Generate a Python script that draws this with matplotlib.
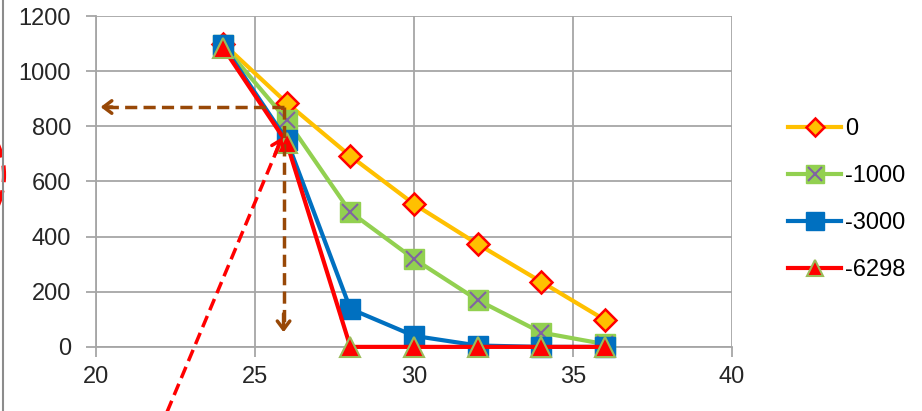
import numpy as np
import matplotlib.pyplot as plt
from matplotlib.lines import Line2D
from matplotlib.patches import Ellipse
from matplotlib.legend_handler import HandlerTuple

plt.rcParams['font.family'] = ['Liberation Sans', 'DejaVu Sans']

# data
x = [24, 26, 28, 30, 32, 34, 36]
s0 = [1100, 885, 692, 518, 373, 236, 98]
s1000 = [1095, 823, 489, 319, 170, 52, 10]
s3000 = [1095, 750, 138, 40, 5, 0, 0]
s6298 = [1085, 740, 0, 0, 0, 0, 0]
labels = ['0', '-1000', '-3000', '-6298']

fig = plt.figure(figsize=(9.22, 4.11), dpi=100)
ax = fig.add_axes([0.104, 0.156, 0.690, 0.805])

grid_c = '#A6A6A6'
ax.set_xlim(20, 40)
ax.set_ylim(0, 1200)
ax.set_xticks(np.arange(20, 41, 5))
ax.set_yticks(np.arange(0, 1201, 200))
ax.grid(True, color=grid_c, linewidth=1.3)
ax.set_axisbelow(True)
for s in ['top', 'right']:
    ax.spines[s].set_visible(False)
for s in ['left', 'bottom']:
    ax.spines[s].set_color(grid_c)
    ax.spines[s].set_linewidth(1.3)
ax.tick_params(axis='both', colors=grid_c, labelcolor='#262626', labelsize=17,
               length=7, width=1.3, direction='out')
ax.tick_params(axis='x', pad=7)
ax.tick_params(axis='y', pad=11)

lw = 3
l0, = ax.plot(x, s0, color='#FFC000', lw=lw, marker='D', ms=11,
              mfc='#FFC000', mec='#FF0000', mew=1.8, zorder=3)
l1, = ax.plot(x, s1000, color='#92D050', lw=lw, marker='s', ms=15,
              mfc='#92D050', mec='#92D050', zorder=4)
l1x, = ax.plot(x, s1000, ls='none', marker='x', ms=12, mec='#8064A2',
               mew=1.5, zorder=4.1)
l2, = ax.plot(x, s3000, color='#0070C0', lw=lw, marker='s', ms=15,
              mfc='#0070C0', mec='#0070C0', zorder=5)
l3, = ax.plot(x, s6298, color='#FF0000', lw=lw, marker='^', ms=14,
              mfc='#FF0000', mec='#9BBB59', mew=1.5, zorder=6)
for ln in (l0, l1, l1x, l2, l3):
    ln.set_clip_on(False)

leg = ax.legend([l0, (l1, l1x), l2, l3], labels,
                handler_map={tuple: HandlerTuple(ndivide=1, pad=0)},
                loc='center left', bbox_to_anchor=(1.055, 0.445), frameon=False,
                fontsize=17, handlelength=2.25, labelspacing=1.05,
                handletextpad=0.15, markerscale=0.85)

# brown dashed guides
brown = '#984807'
ax.plot([25.9, 20.25], [870, 870], color=brown, lw=2.5, ls=(0, (3.5, 1.8)),
        zorder=7)
ax.plot([25.9, 25.9], [870, 70], color=brown, lw=2.5, ls=(0, (3.5, 1.8)),
        zorder=7)
ax.annotate('', xy=(20.06, 870), xytext=(20.6, 870),
            arrowprops=dict(arrowstyle='->,head_length=0.6,head_width=0.45',
                            color=brown, lw=2.5), zorder=7)
ax.annotate('', xy=(25.9, 43), xytext=(25.9, 130),
            arrowprops=dict(arrowstyle='->,head_length=0.6,head_width=0.45',
                            color=brown, lw=2.5), zorder=7)

# red dashed pointer
red = '#FF0000'
ln, = ax.plot([22.15, 25.75], [-260, 730], color=red, lw=2.5,
              ls=(0, (3.5, 1.8)), zorder=8)
ln.set_clip_on(False)
ax.annotate('', xy=(25.88, 769), xytext=(25.6, 690),
            arrowprops=dict(arrowstyle='->,head_length=0.6,head_width=0.45',
                            color=red, lw=2.5), zorder=8,
            annotation_clip=False)

# frame edge and circled mark on the left
fig.add_artist(Line2D([3 / 922, 3 / 922], [0, 1], color='#8C8C8C', lw=1.5))
fig.add_artist(Ellipse((-40 / 922, 1 - 175 / 411), 88 / 922, 120 / 411,
                       fill=False, edgecolor=red, lw=3, ls=(0, (4, 2))))

fig.savefig('out.png', dpi=100)
